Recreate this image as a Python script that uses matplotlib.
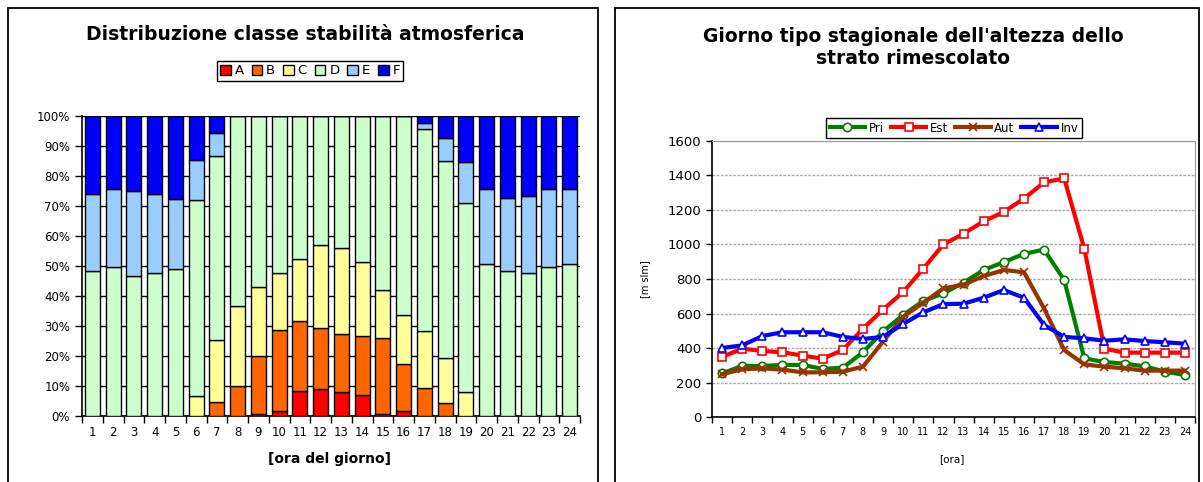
import numpy as np
import matplotlib.pyplot as plt
from matplotlib.patches import Rectangle
from matplotlib.ticker import PercentFormatter

plt.rcParams['font.family'] = ['DejaVu Sans']

ore = list(range(1, 25))

# classi di stabilita' (percentuali per ora)
cls_A = [0, 0, 0, 0, 0, 0, 0, 0, 0.8, 1.6, 8.3, 9.1, 7.9, 7.0, 0.8, 1.6, 0, 0, 0, 0, 0, 0, 0, 0]
cls_B = [0, 0, 0, 0, 0, 0, 4.6, 10.1, 19.2, 27.1, 23.5, 20.2, 19.3, 19.8, 25.1, 15.6, 9.2, 4.3, 0, 0, 0, 0, 0, 0]
cls_C = [0, 0, 0, 0, 0, 6.6, 20.8, 26.7, 23.0, 19.0, 20.6, 27.7, 28.9, 24.4, 16.2, 16.5, 19.0, 14.9, 7.9, 0, 0, 0, 0, 0]
cls_D = [48.4, 49.8, 46.8, 47.7, 48.9, 65.4, 61.3, 63.2, 57.0, 52.3, 47.6, 43.0, 43.9, 48.8, 57.9, 66.3, 67.6, 65.9, 63.1, 50.8, 48.4, 47.7, 49.8, 50.8]
cls_E = [25.6, 25.8, 28.3, 26.3, 23.4, 13.3, 7.7, 0, 0, 0, 0, 0, 0, 0, 0, 0, 1.8, 7.6, 13.7, 24.8, 24.4, 25.5, 25.8, 24.8]
cls_F = [26.0, 24.4, 24.9, 26.0, 27.7, 14.7, 5.6, 0, 0, 0, 0, 0, 0, 0, 0, 0, 2.4, 7.3, 15.3, 24.4, 27.2, 26.8, 24.4, 24.4]
classi = ['A', 'B', 'C', 'D', 'E', 'F']
col_classi = ['#FF0000', '#FF6600', '#FFFF99', '#CCFFCC', '#99CCFF', '#0000FF']

# altezza strato rimescolato [m slm]
pri = [254, 297, 297, 303, 303, 280, 287, 376, 497, 592, 673, 717, 779, 852, 898, 945, 970, 794, 341, 320, 310, 295, 264, 245]
est = [349, 397, 384, 376, 357, 339, 389, 513, 623, 725, 860, 1000, 1062, 1134, 1188, 1265, 1359, 1382, 975, 397, 374, 374, 374, 374]
aut = [249, 278, 283, 276, 260, 260, 264, 293, 438, 582, 663, 746, 767, 817, 852, 839, 630, 389, 306, 293, 283, 270, 270, 270]
inv = [401, 416, 470, 492, 492, 492, 465, 453, 465, 540, 607, 655, 657, 692, 736, 692, 534, 465, 457, 443, 451, 441, 434, 426]

W, H = 1203, 482
fig = plt.figure(figsize=(W / 100, H / 100), dpi=100)

# cornici dei due grafici
for x0, x1 in [(8, 598), (615, 1199)]:
    fig.patches.append(Rectangle((x0 / W, -0.1), (x1 - x0) / W, 1.1 - 8 / H,
                                 transform=fig.transFigure, fill=False,
                                 edgecolor='black', lw=1.3))

# ---- grafico a barre ----
ax1 = fig.add_axes([82 / W, 1 - 416 / H, (580 - 82) / W, 300 / H])
data = np.array([cls_A, cls_B, cls_C, cls_D, cls_E, cls_F]) / 100.0
bottom = np.zeros(24)
for name, vals, c in zip(classi, data, col_classi):
    ax1.bar(ore, vals, bottom=bottom, width=0.72, color=c, edgecolor='black',
            linewidth=1, label=name, zorder=3)
    bottom += vals
ax1.set_xlim(0.5, 24.5)
ax1.set_ylim(0, 1)
ax1.set_yticks(np.arange(0, 1.01, 0.1))
ax1.yaxis.set_major_formatter(PercentFormatter(1.0, decimals=0))
ax1.yaxis.grid(True, color='black', lw=1, zorder=0)
ax1.set_xticks(np.arange(0.5, 25, 1))
ax1.set_xticklabels([])
ax1.set_xticks(ore, minor=True)
ax1.set_xticklabels([str(o) for o in ore], minor=True, fontsize=8.5)
ax1.tick_params(axis='x', which='minor', length=0, pad=7)
ax1.tick_params(axis='x', which='major', length=5, width=1)
ax1.tick_params(axis='y', length=5, width=1, labelsize=8.5)
for s in ['top', 'right']:
    ax1.spines[s].set_visible(False)
for s in ['left', 'bottom']:
    ax1.spines[s].set_linewidth(1.2)

fig.text(305 / W, 1 - 35 / H, 'Distribuzione classe stabilità atmosferica',
         ha='center', va='center', fontsize=13.5, fontweight='bold')
fig.text(330 / W, 1 - 459 / H, '[ora del giorno]', ha='center', va='center',
         fontsize=10, fontweight='bold')
h1, l1 = ax1.get_legend_handles_labels()
leg1 = fig.legend(h1, l1, loc='center', bbox_to_anchor=(310 / W, 1 - 71 / H),
                  ncol=6, fontsize=9.5, handlelength=0.8, handleheight=0.8,
                  handletextpad=0.3, columnspacing=0.6, borderpad=0.25,
                  fancybox=False, edgecolor='black', framealpha=1)
leg1.get_frame().set_linewidth(1)

# ---- grafico a linee ----
ax2 = fig.add_axes([712 / W, 1 - 417.3 / H, (1195 - 712) / W, (417.3 - 140.7) / H])
serie = [('Pri', pri, '#008000', 'o'), ('Est', est, '#FF0000', 's'),
         ('Aut', aut, '#993300', 'x'), ('Inv', inv, '#0000FF', '^')]
for name, vals, c, m in serie:
    ax2.plot(ore, vals, color=c, lw=3, marker=m, markersize=6,
             markerfacecolor='white' if m != 'x' else c,
             markeredgecolor=c, markeredgewidth=1.2, label=name, zorder=3)
ax2.set_xlim(0.5, 24.5)
ax2.set_ylim(0, 1600)
ax2.set_yticks(range(0, 1601, 200))
ax2.yaxis.grid(True, color='#aaaaaa', lw=1, linestyle=(0, (2, 1)), zorder=0)
ax2.set_xticks(np.arange(0.5, 25, 1))
ax2.set_xticklabels([])
ax2.set_xticks(ore, minor=True)
ax2.set_xticklabels([str(o) for o in ore], minor=True, fontsize=7)
ax2.tick_params(axis='x', which='minor', length=0, pad=7)
ax2.tick_params(axis='x', which='major', length=4, width=1)
ax2.tick_params(axis='y', length=4, width=1, labelsize=9.5)
for s in ['top', 'right']:
    ax2.spines[s].set_color('#999999')
for s in ['left', 'bottom']:
    ax2.spines[s].set_linewidth(1.2)

fig.text(913 / W, 1 - 47.5 / H,
         "Giorno tipo stagionale dell'altezza dello\nstrato rimescolato",
         ha='center', va='center', fontsize=13.5, fontweight='bold',
         linespacing=1.2)
fig.text(952 / W, 1 - 459 / H, '[ora]', ha='center', va='center', fontsize=7.5)
fig.text(645 / W, 1 - 279 / H, '[m slm]', ha='center', va='center',
         fontsize=7, rotation=90)
h2, l2 = ax2.get_legend_handles_labels()
leg2 = fig.legend(h2, l2, loc='center', bbox_to_anchor=(954 / W, 1 - 128 / H),
                  ncol=4, fontsize=8.5, handlelength=3, handletextpad=0.3,
                  columnspacing=0.6, borderpad=0.3, fancybox=False,
                  edgecolor='black', framealpha=1)
leg2.get_frame().set_linewidth(1)

fig.savefig('out.png', dpi=100)
